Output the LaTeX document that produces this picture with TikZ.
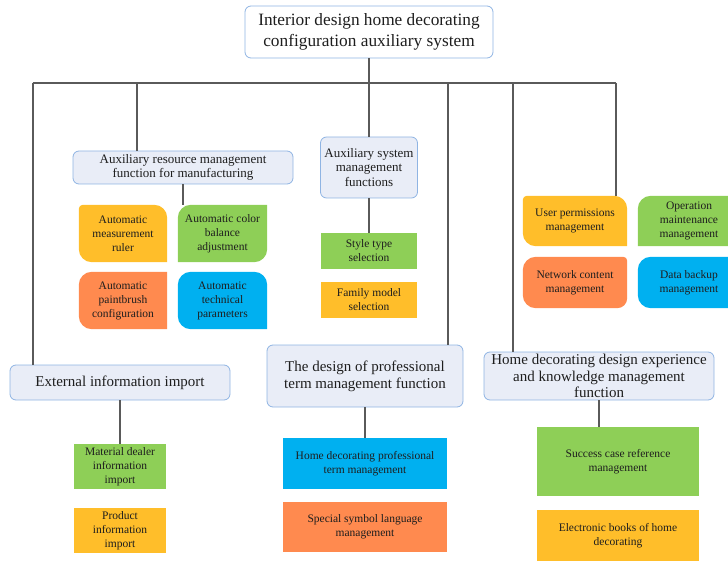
\documentclass[tikz,border=0pt]{standalone}
\usepackage{fontspec}
\setmainfont{Liberation Serif}
\usetikzlibrary{calc,backgrounds}
\definecolor{boxfill}{HTML}{E9EDF7}
\definecolor{boxline}{HTML}{8FB4E3}
\definecolor{cyel}{HTML}{FFBE2A}
\definecolor{cgrn}{HTML}{8ECF57}
\definecolor{corg}{HTML}{FF8A4F}
\definecolor{cblu}{HTML}{00B0F0}
\definecolor{conn}{HTML}{5A5A5A}
\definecolor{txt}{HTML}{1E1E1E}
% name, colour, radii TL TR BR BL
\newcommand\cfill[6]{%
  \fill[#2] ($(#1.north west)+(#3,0)$) -- ($(#1.north east)+(-#4,0)$)
    arc[start angle=270,end angle=360,radius=#4]
    -- ($(#1.south east)+(0,-#5)$) arc[start angle=0,end angle=90,radius=#5]
    -- ($(#1.south west)+(#6,0)$) arc[start angle=90,end angle=180,radius=#6]
    -- ($(#1.north west)+(0,#3)$) arc[start angle=180,end angle=270,radius=#3]
    -- cycle;}
\tikzset{
  topbox/.style={draw=boxline, fill=white, rounded corners=6pt, line width=0.8pt,
    align=center, inner sep=0pt, text=txt, font=\fontsize{17.3}{20.5}\selectfont},
  lvlbig/.style={draw=boxline, fill=boxfill, rounded corners=6pt, line width=0.8pt,
    align=center, inner sep=0pt, text=txt, font=\fontsize{15}{16.7}\selectfont},
  lvlsmall/.style={lvlbig, font=\fontsize{13}{14.6}\selectfont},
  leaf/.style={inner sep=0pt, align=center, text=txt, font=\fontsize{11.5}{14}\selectfont},
  conn/.style={draw=conn, line width=2pt},
}
\begin{document}
\begin{tikzpicture}[x=1pt,y=-1pt]
\useasboundingbox (0,0) rectangle (728,561);

% main boxes
\node[topbox, minimum width=248pt, minimum height=52pt] (top) at (369,32)
  {Interior design home decorating\\configuration auxiliary system};
\node[lvlsmall, minimum width=220pt, minimum height=33pt] (res) at (183,167.5)
  {Auxiliary resource management\\function for manufacturing};
\node[lvlsmall, minimum width=97pt, minimum height=61pt] (sys) at (369,167.5)
  {Auxiliary system\\management\\functions};
\node[lvlbig, minimum width=220pt, minimum height=35pt] (ext) at (120,382.5)
  {External information import};
\node[lvlbig, minimum width=196pt, minimum height=62pt] (des) at (365,376)
  {The design of professional\\term management function};
\node[lvlbig, minimum width=230pt, minimum height=48pt] (home) at (599,376)
  {Home decorating design experience\\and knowledge management\\function};

% leaves
\node[leaf, minimum width=88pt, minimum height=57pt] (o1) at (123,233.5) {Automatic\\measurement\\ruler};
\node[leaf, minimum width=89pt, minimum height=57pt] (g1) at (222.5,233.5) {Automatic color\\balance\\adjustment};
\node[leaf, minimum width=88pt, minimum height=57pt] (o2) at (123,300.5) {Automatic\\paintbrush\\configuration};
\node[leaf, minimum width=89pt, minimum height=57pt] (b1) at (222.5,300.5) {Automatic\\technical\\parameters};

\node[leaf, minimum width=96pt, minimum height=36pt] (style) at (369,251) {Style type\\selection};
\node[leaf, minimum width=96pt, minimum height=36pt] (family) at (369,300) {Family model\\selection};

\node[leaf, minimum width=104pt, minimum height=50pt] (user) at (575,221) {User permissions\\management};
\node[leaf, minimum width=102pt, minimum height=50pt] (oper) at (689,221) {Operation\\maintenance\\management};
\node[leaf, minimum width=104pt, minimum height=51pt] (net) at (575,282.5) {Network content\\management};
\node[leaf, minimum width=102pt, minimum height=51pt] (backup) at (689,282.5) {Data backup\\management};

\node[leaf, minimum width=92pt, minimum height=45pt] (mat) at (120,466.5) {Material dealer\\information\\import};
\node[leaf, minimum width=92pt, minimum height=45pt] (prod) at (120,530.5) {Product\\information\\import};

\node[leaf, minimum width=163pt, minimum height=51pt] (hdt) at (365,463.5) {Home decorating professional\\term management};
\node[leaf, minimum width=163pt, minimum height=50pt] (spec) at (365,527) {Special symbol language\\management};

\node[leaf, minimum width=162pt, minimum height=69pt] (succ) at (618,461.5) {Success case reference\\management};
\node[leaf, minimum width=162pt, minimum height=51pt] (ebook) at (618,535.5) {Electronic books of home\\decorating};

\begin{scope}[on background layer]
  \cfill{o1}{cyel}{4}{13}{0.1}{13}
  \cfill{g1}{cgrn}{13}{0.1}{13}{0.1}
  \cfill{o2}{corg}{13}{0.1}{0.1}{13}
  \cfill{b1}{cblu}{13}{13}{0.1}{13}
  \cfill{user}{cyel}{4}{13}{0.1}{13}
  \cfill{oper}{cgrn}{13}{0.1}{13}{0.1}
  \cfill{net}{corg}{13}{4}{10}{13}
  \cfill{backup}{cblu}{13}{0.1}{0.1}{13}
  \fill[cgrn] (style.north west) rectangle (style.south east);
  \fill[cyel] (family.north west) rectangle (family.south east);
  \fill[cgrn] (mat.north west) rectangle (mat.south east);
  \fill[cyel] (prod.north west) rectangle (prod.south east);
  \fill[cblu] (hdt.north west) rectangle (hdt.south east);
  \fill[corg] (spec.north west) rectangle (spec.south east);
  \fill[cgrn] (succ.north west) rectangle (succ.south east);
  \fill[cyel] (ebook.north west) rectangle (ebook.south east);
\end{scope}

% connectors
\coordinate (busL) at (32.5,83);
\coordinate (busR) at (616,83);
\coordinate (bres) at (137,83);
\coordinate (bdes) at (448,83);
\coordinate (bhome) at (513,83);
\draw[conn] (busL) -- (busR);
\draw[conn] (top.south) -- (sys.north);
\draw[conn] (busL) -- (busL |- ext.north);
\draw[conn] (bres) -- (bres |- res.north);
\draw[conn] (bdes) -- (bdes |- des.north);
\draw[conn] (bhome) -- (bhome |- home.north);
\draw[conn] (busR) -- (busR |- user.north);

\coordinate (g1in) at ($(g1.north west)+(5,0)$);
\draw[conn] (g1in |- res.south) -- (g1in);
\draw[conn] (sys.south) -- (style.north);
\draw[conn] (ext.south) -- (mat.north);
\draw[conn] (des.south) -- (hdt.north);
\draw[conn] (home.south) -- (home.south |- succ.north);
\end{tikzpicture}
\end{document}
